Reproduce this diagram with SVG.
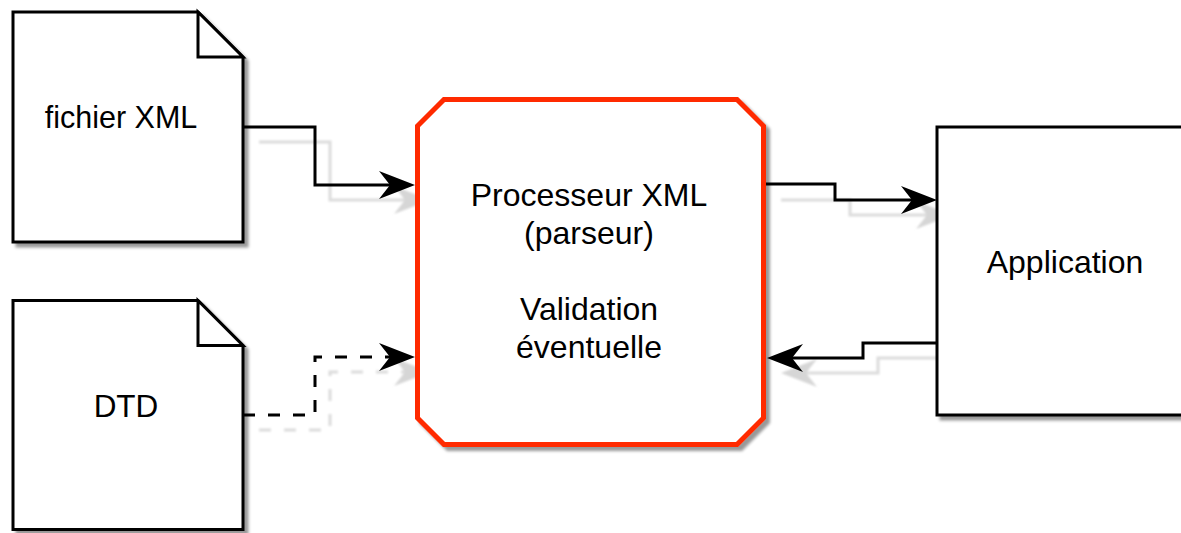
<svg xmlns="http://www.w3.org/2000/svg" width="1181" height="533" viewBox="0 0 1181 533">
<style>
  .doc { fill: #ffffff; stroke: #000000; stroke-width: 3; stroke-linejoin: miter; }
  .fold { fill: #ffffff; stroke: #000000; stroke-width: 3; }
  .proc { fill: #ffffff; stroke: #ff2a00; stroke-width: 5; stroke-linejoin: miter; }
  .app { fill: #ffffff; stroke: #000000; stroke-width: 3; }
  .lbl { font-family: "Liberation Sans", Arial, Helvetica, sans-serif; font-size: 32px; fill: #000000; text-anchor: middle; }
  .edge { fill: none; stroke: #000000; stroke-width: 3; }
  .edge-sh { fill: none; stroke: #dcdcdc; stroke-width: 3; }
  .dash { stroke-dasharray: 12 13; }
</style>
<defs>
  <filter id="nodeShadow" x="-5%" y="-5%" width="115%" height="115%">
    <feGaussianBlur in="SourceAlpha" stdDeviation="1.8"/>
    <feOffset dx="4" dy="4" result="b"/>
    <feFlood flood-color="#000000" flood-opacity="0.4"/>
    <feComposite in2="b" operator="in"/>
    <feMerge><feMergeNode/><feMergeNode in="SourceGraphic"/></feMerge>
  </filter>
  <filter id="soft" x="-10%" y="-10%" width="120%" height="120%">
    <feGaussianBlur stdDeviation="0.8"/>
  </filter>
  <marker id="arrow" viewBox="0 0 36 28" refX="25" refY="14" markerWidth="36" markerHeight="28" markerUnits="userSpaceOnUse" orient="auto">
    <path d="M0,0 L36,14 L0,28 L11,14 Z" fill="#000000"/>
  </marker>
  <marker id="arrowSh" viewBox="0 0 36 28" refX="25" refY="14" markerWidth="36" markerHeight="28" markerUnits="userSpaceOnUse" orient="auto">
    <path d="M0,0 L36,14 L0,28 L11,14 Z" fill="#d6d6d6"/>
  </marker>
</defs>
<rect width="1181" height="533" fill="#ffffff"/>

<g id="connectors">
  <g id="connector-shadows" filter="url(#soft)">
    <path class="edge-sh" d="M259,142 L330,142 L330,200 L419,200" marker-end="url(#arrowSh)"/>
    <path class="edge-sh dash" d="M259,430 L330,430 L330,372 L419,372" marker-end="url(#arrowSh)"/>
    <path class="edge-sh" d="M781,200 L850,200 L850,215 L941,215" marker-end="url(#arrowSh)"/>
    <path class="edge-sh" d="M952,358 L878,358 L878,373 L792,373" marker-end="url(#arrowSh)"/>
  </g>
  <path id="e-xml-proc" class="edge" d="M243,127 L315,127 L315,185 L404,185" marker-end="url(#arrow)"/>
  <path id="e-dtd-proc" class="edge dash" d="M243,415 L315,415 L315,357 L404,357" marker-end="url(#arrow)"/>
  <path id="e-proc-app" class="edge" d="M766,184 L835,184 L835,200 L926,200" marker-end="url(#arrow)"/>
  <path id="e-app-proc" class="edge" d="M937,343 L863,343 L863,358 L778,358" marker-end="url(#arrow)"/>
</g>

<g id="node-fichier-xml">
  <path class="doc" filter="url(#nodeShadow)" d="M13,12 L198,12 L243,57 L243,242 L13,242 Z"/>
  <path class="fold" d="M198,12 L198,57 L243,57 Z"/>
  <text class="lbl" x="121" y="128" style="font-size:30.5px">fichier XML</text>
</g>

<g id="node-dtd">
  <path class="doc" filter="url(#nodeShadow)" d="M13,300.5 L198,300.5 L243,345.5 L243,529.5 L13,529.5 Z"/>
  <path class="fold" d="M198,300.5 L198,345.5 L243,345.5 Z"/>
  <text class="lbl" x="126" y="417" style="font-size:31.5px">DTD</text>
</g>

<g id="node-processeur">
  <path class="proc" filter="url(#nodeShadow)" d="M444,99.5 L737,99.5 L763.5,126 L763.5,418 L737,444.5 L444,444.5 L417.5,418 L417.5,126 Z"/>
  <text class="lbl" x="589" y="206">Processeur XML</text>
  <text class="lbl" x="589" y="244">(parseur)</text>
  <text class="lbl" x="589" y="320">Validation</text>
  <text class="lbl" x="589" y="358">éventuelle</text>
</g>

<g id="node-application">
  <rect class="app" filter="url(#nodeShadow)" x="937" y="127" width="260" height="288"/>
  <text class="lbl" x="1065" y="273">Application</text>
</g>
</svg>
